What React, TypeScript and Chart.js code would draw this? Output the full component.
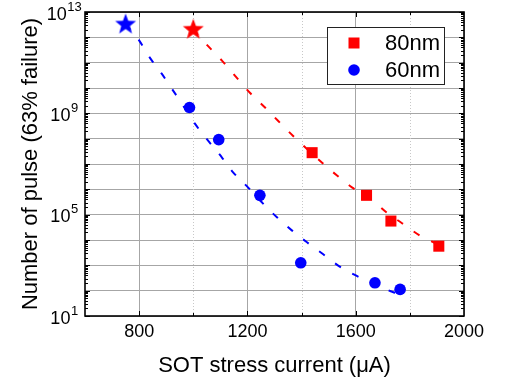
import React, { useEffect, useRef } from 'react';
import { Chart, registerables } from 'chart.js';

Chart.register(...registerables);

const FONT = "'Liberation Sans', Arial, sans-serif";

const label80 = '80nm';
const label60 = '60nm';

const current80 = [1439, 1640, 1730, 1907];
const pulses80 = [2.8e7, 5.8e5, 5.6e4, 5.7e3];

const current60 = [986, 1094, 1246, 1397, 1671, 1764];
const pulses60 = [1.7e9, 9.2e7, 5.8e5, 1.26e3, 204, 112];

const starCurrent80 = [1000];
const starPulses80 = [2.0e12];
const starCurrent60 = [750];
const starPulses60 = [3.2e12];

const fitCurrent80 = [1000, 1054, 1106, 1161, 1209, 1265, 1313, 1368, 1479, 1531, 1586, 1653, 1715, 1771, 1837, 1904];
const fitPulses80 = [2.0e12, 4.6e11, 1.2e11, 2.5e10, 6.5e9, 1.7e9, 5.1e8, 1.3e8, 1.05e7, 3.5e6, 1.2e6, 4.4e5, 1.2e5, 4.6e4, 1.5e4, 6.8e3];

const fitCurrent60 = [750, 796, 840, 884, 921, 958, 1006, 1054, 1106, 1147, 1202, 1257, 1309, 1364, 1420, 1475, 1534, 1604, 1678, 1737, 1765];
const fitPulses60 = [3.2e12, 8.7e11, 1.55e11, 3.6e10, 9.3e9, 2.4e9, 3.9e8, 8.5e7, 1.8e7, 4.7e6, 1.2e6, 2.8e5, 7.9e4, 2.4e4, 8.1e3, 3.0e3, 1.0e3, 380, 166, 89, 72];

const xMin = 600;
const xMax = 2000;
const xStep = 200;
const xTickLabels = [800, 1200, 1600, 2000];
const yDecades = [1, 2, 3, 4, 5, 6, 7, 8, 9, 10, 11, 12, 13];
const yTickExponents = [1, 5, 9, 13];

const RED = '#ff0000';
const BLUE = '#0000ff';
const GRID = '#a6a6a6';

function zip(xs: number[], ys: number[]) {
  return xs.map((x, i) => ({ x, y: ys[i] }));
}

function makeStar(color: string) {
  const c = document.createElement('canvas');
  c.width = 24;
  c.height = 24;
  const g = c.getContext('2d')!;
  const R = 11;
  const r = R * 0.42;
  g.beginPath();
  for (let i = 0; i < 10; i++) {
    const rad = i % 2 === 0 ? R : r;
    const a = -Math.PI / 2 + (i * Math.PI) / 5;
    const px = 12 + rad * Math.cos(a);
    const py = 12 + rad * Math.sin(a);
    if (i === 0) g.moveTo(px, py);
    else g.lineTo(px, py);
  }
  g.closePath();
  g.fillStyle = color;
  g.fill();
  return c;
}

const decorPlugin = {
  id: 'decor',
  beforeDatasetsDraw(chart: any) {
    const { ctx, chartArea } = chart;
    const xs = chart.scales.x;
    ctx.save();
    ctx.strokeStyle = '#c8c8c8';
    ctx.lineWidth = 1;
    ctx.setLineDash([1, 2]);
    for (let v = xMin + xStep; v < xMax; v += xStep) {
      if (v % 400 === 0) continue;
      const px = Math.round(xs.getPixelForValue(v)) + 0.5;
      ctx.beginPath();
      ctx.moveTo(px, chartArea.top);
      ctx.lineTo(px, chartArea.bottom);
      ctx.stroke();
    }
    ctx.restore();
  },
  afterDraw(chart: any) {
    const { ctx, chartArea } = chart;
    const xs = chart.scales.x;
    const ys = chart.scales.y;
    const { left, right, top, bottom } = chartArea;
    ctx.save();
    ctx.strokeStyle = '#000';
    ctx.lineWidth = 1;
    // x ticks (inward, top and bottom)
    for (let v = xMin + xStep; v < xMax; v += xStep) {
      const px = Math.round(xs.getPixelForValue(v)) + 0.5;
      const len = v % 400 === 0 ? 5 : 3;
      ctx.beginPath();
      ctx.moveTo(px, bottom);
      ctx.lineTo(px, bottom - len);
      ctx.moveTo(px, top);
      ctx.lineTo(px, top + len);
      ctx.stroke();
    }
    // y ticks (major + minor, inward, left and right)
    for (const e of yDecades) {
      for (let m = 1; m <= 9; m++) {
        const v = m * Math.pow(10, e - (m === 1 ? 0 : 1));
        if (m !== 1 && e - 1 < 1) continue;
        const py = Math.round(ys.getPixelForValue(v)) + 0.5;
        const len = m === 1 ? 5 : 3;
        ctx.beginPath();
        ctx.moveTo(left, py);
        ctx.lineTo(left + len, py);
        ctx.moveTo(right, py);
        ctx.lineTo(right - len, py);
        ctx.stroke();
      }
    }
    // frame
    ctx.lineWidth = 1.6;
    ctx.strokeRect(left, top, right - left, bottom - top);

    // y tick labels with superscripts
    ctx.fillStyle = '#000';
    ctx.textBaseline = 'alphabetic';
    ctx.textAlign = 'left';
    for (const e of yTickExponents) {
      const py = ys.getPixelForValue(Math.pow(10, e));
      ctx.font = `18px ${FONT}`;
      const wBase = ctx.measureText('10').width;
      ctx.font = `13px ${FONT}`;
      const wExp = ctx.measureText(String(e)).width;
      const cx = left - 21;
      const x0 = cx - (wBase + wExp) / 2;
      const base = py + 7.5;
      ctx.font = `18px ${FONT}`;
      ctx.fillText('10', x0, base);
      ctx.font = `13px ${FONT}`;
      ctx.fillText(String(e), x0 + wBase + 0.5, base - 9);
    }

    // legend
    const lw = 117;
    const lh = 57;
    const lx = right - 20 - lw;
    const ly = top + 15;
    ctx.fillStyle = '#fff';
    ctx.fillRect(lx, ly, lw, lh);
    ctx.lineWidth = 1;
    ctx.strokeStyle = '#222';
    ctx.strokeRect(lx + 0.5, ly + 0.5, lw, lh);
    const rowY = [ly + 16, ly + 43];
    const mx = lx + 27;
    ctx.fillStyle = RED;
    ctx.fillRect(mx - 5.5, rowY[0] - 5.5, 11, 11);
    ctx.fillStyle = BLUE;
    ctx.beginPath();
    ctx.arc(mx, rowY[1], 5.8, 0, Math.PI * 2);
    ctx.fill();
    ctx.fillStyle = '#000';
    ctx.font = `22px ${FONT}`;
    ctx.textBaseline = 'middle';
    ctx.fillText(label80, lx + 58, rowY[0] + 1);
    ctx.fillText(label60, lx + 58, rowY[1] + 1);
    ctx.restore();
  },
};

export default function App() {
  const ref = useRef<HTMLCanvasElement | null>(null);

  useEffect(() => {
    document.body.style.margin = '0';
    const canvas = ref.current!;
    const star80 = makeStar(RED);
    const star60 = makeStar(BLUE);
    const chart = new Chart(canvas, {
      type: 'scatter',
      data: {
        datasets: [
          {
            label: label80 + ' star',
            data: zip(starCurrent80, starPulses80),
            pointStyle: star80 as any,
            pointRadius: 11,
            backgroundColor: RED,
            borderColor: RED,
            order: 0,
          },
          {
            label: label60 + ' star',
            data: zip(starCurrent60, starPulses60),
            pointStyle: star60 as any,
            pointRadius: 11,
            backgroundColor: BLUE,
            borderColor: BLUE,
            order: 0,
          },
          {
            label: label80,
            data: zip(current80, pulses80),
            pointStyle: 'rect',
            pointRadius: 7.8,
            borderWidth: 0,
            backgroundColor: RED,
            borderColor: RED,
            order: 0,
          },
          {
            label: label60,
            data: zip(current60, pulses60),
            pointStyle: 'circle',
            pointRadius: 5.8,
            borderWidth: 0,
            backgroundColor: BLUE,
            borderColor: BLUE,
            order: 0,
          },
          {
            label: label80 + ' fit',
            data: zip(fitCurrent80, fitPulses80),
            showLine: true,
            pointRadius: 0,
            borderColor: RED,
            borderWidth: 2,
            borderDash: [7, 13],
            cubicInterpolationMode: 'monotone',
            fill: false,
            order: 1,
          } as any,
          {
            label: label60 + ' fit',
            data: zip(fitCurrent60, fitPulses60),
            showLine: true,
            pointRadius: 0,
            borderColor: BLUE,
            borderWidth: 2,
            borderDash: [7, 13],
            cubicInterpolationMode: 'monotone',
            fill: false,
            order: 1,
          } as any,
        ],
      },
      options: {
        animation: false,
        responsive: false,
        devicePixelRatio: 1,
        layout: { padding: { left: 0, top: 11, right: 42, bottom: 0 } },
        plugins: {
          legend: { display: false },
          tooltip: { enabled: false },
        },
        scales: {
          x: {
            type: 'linear',
            min: xMin,
            max: xMax,
            border: { display: false },
            grid: {
              drawTicks: false,
              color: (c: any) =>
                c.tick && c.tick.value % 400 === 0 ? GRID : 'rgba(0,0,0,0)',
            },
            ticks: {
              stepSize: xStep,
              autoSkip: false,
              maxRotation: 0,
              padding: 7,
              color: '#000',
              font: { family: FONT, size: 18, lineHeight: 1 },
              callback: (v: any) => (xTickLabels.includes(Number(v)) ? String(v) : ''),
            },
            title: {
              display: true,
              text: 'SOT stress current (μA)',
              color: '#000',
              font: { family: FONT, size: 22, lineHeight: 1 },
              padding: { top: 0, bottom: 12 },
            },
            afterFit: (s: any) => {
              s.height = 73;
            },
          },
          y: {
            type: 'logarithmic',
            min: 10,
            max: 1e13,
            border: { display: false },
            grid: { drawTicks: false, color: GRID },
            ticks: { display: false },
            afterBuildTicks: (s: any) => {
              s.ticks = yDecades.map((e) => ({ value: Math.pow(10, e) }));
            },
            title: {
              display: true,
              text: 'Number of pulse (63% failure)',
              color: '#000',
              font: { family: FONT, size: 22, lineHeight: 1 },
              padding: { top: 20, bottom: 0 },
            },
            afterFit: (s: any) => {
              s.width = 85;
            },
          },
        } as any,
      },
      plugins: [decorPlugin],
    });
    return () => chart.destroy();
  }, []);

  return (
    <div style={{ position: 'fixed', left: 0, top: 0, width: 506, height: 389, background: '#fff' }}>
      <canvas ref={ref} width={506} height={389} style={{ display: 'block', width: 506, height: 389 }} />
    </div>
  );
}
